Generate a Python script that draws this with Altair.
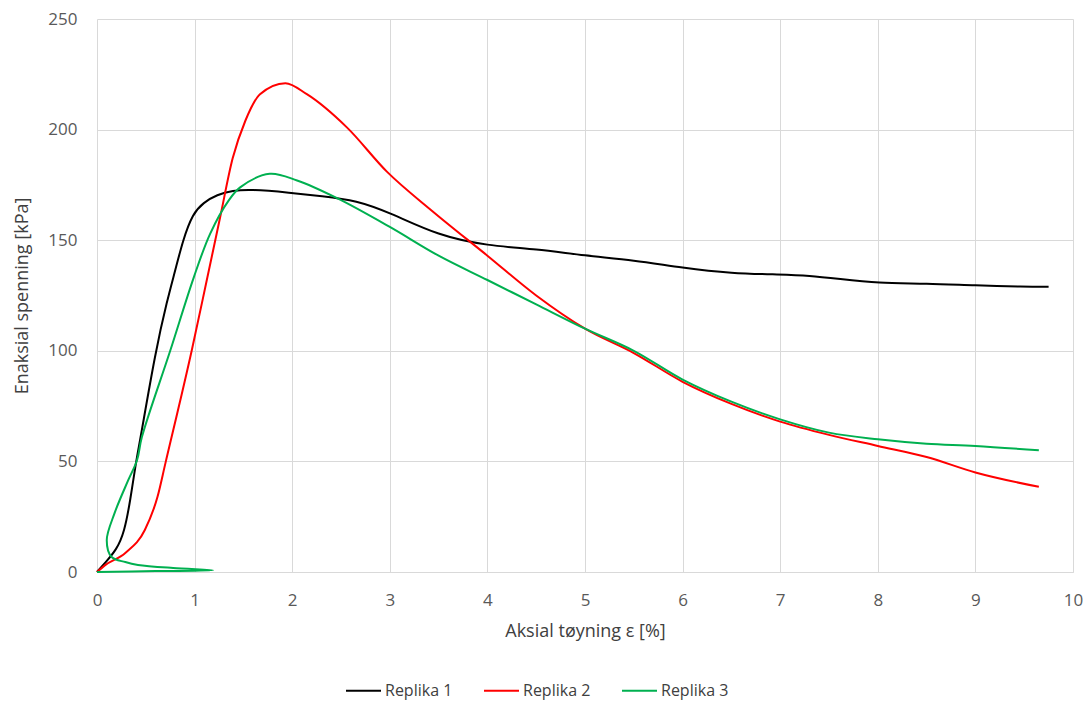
import altair as alt
import pandas as pd

r1_x = [0, 0.08, 0.2, 0.28, 0.34, 0.40, 0.44, 0.6, 0.72, 0.80, 0.88, 0.98, 1.09, 1.23, 1.39, 1.57, 1.98, 2.3, 2.66, 3.0, 3.5, 4.0, 4.5, 5.0, 5.5, 6.0, 6.5, 7.0, 7.3, 7.6, 8.0, 8.5, 9.0, 9.5, 9.75]
r1_y = [0, 4, 10, 18, 32, 50, 59, 100, 123, 136, 150, 162, 167, 170.6, 172.4, 173, 171.5, 170, 168, 162.5, 152, 147.5, 146, 143, 141, 137.5, 135, 134.5, 134, 132.5, 130.5, 130.5, 129.5, 129, 129]

r2_x = [0, 0.08, 0.29, 0.49, 0.62, 0.70, 0.97, 1.13, 1.26, 1.39, 1.52, 1.67, 1.93, 2.15, 2.56, 2.97, 3.44, 4.0, 4.5, 5.0, 5.5, 6.0, 6.5, 7.0, 7.5, 8.0, 8.5, 9.0, 9.65]
r2_y = [0, 3, 8.6, 19, 34, 49, 100, 133, 160, 187, 204, 216, 221, 216, 201, 181, 163, 143, 125, 110, 99, 86, 76, 68, 62, 57, 52, 45, 38.5]

r3_x = [0, 0.6, 1.19, 0.78, 0.42, 0.29, 0.15, 0.10, 0.18, 0.32, 0.41, 0.46, 0.75, 0.99, 1.16, 1.35, 1.47, 1.77, 2.05, 2.46, 3.0, 3.5, 4.0, 4.5, 5.0, 5.5, 6.0, 6.5, 7.0, 7.5, 8.0, 8.5, 9.0, 9.65]
r3_y = [0, 0.4, 0.8, 1.8, 3.2, 4.5, 6.8, 14.4, 26.6, 41.5, 50.5, 61, 100, 133, 153, 168, 174, 180, 177, 169, 156, 143, 132, 121, 110, 100, 87, 77, 69, 63, 60, 58, 57, 55]

series = ["Replika 1", "Replika 2", "Replika 3"]
colors = ["#000000", "#ff0000", "#00b050"]
x_ticks = [0, 1, 2, 3, 4, 5, 6, 7, 8, 9, 10]
y_ticks = [0, 50, 100, 150, 200, 250]

rows = []
for name, xs, ys in zip(series, [r1_x, r2_x, r3_x], [r1_y, r2_y, r3_y]):
    for i, (x, y) in enumerate(zip(xs, ys)):
        rows.append({"serie": name, "x": x, "y": y, "i": i})
df = pd.DataFrame(rows)

FONT = "Open Sans"

x_enc = alt.X("x:Q", scale=alt.Scale(domain=[0, 10], nice=False),
              axis=alt.Axis(title="Aksial tøyning ε [%]", values=x_ticks, labelFlush=False))
y_enc = alt.Y("y:Q", scale=alt.Scale(domain=[0, 250], nice=False),
              axis=alt.Axis(title="Enaksial spenning [kPa]", values=y_ticks))
c_enc = alt.Color("serie:N", scale=alt.Scale(domain=series, range=colors),
                  legend=alt.Legend(title=None, orient="none", direction="horizontal",
                                    legendX=248, legendY=653, padding=0,
                                    symbolType="stroke", symbolStrokeWidth=2,
                                    symbolSize=1225, labelOffset=3,
                                    labelFontSize=16, labelFont=FONT, labelColor="#404040",
                                    columnPadding=27))

base = alt.Chart(df).encode(x=x_enc, y=y_enc, color=c_enc, order="i:Q", detail="serie:N")

l1 = base.transform_filter(alt.datum.serie == "Replika 1").mark_line(
    interpolate="basis", strokeWidth=2)
l2 = base.transform_filter(alt.datum.serie == "Replika 2").mark_line(
    interpolate="monotone", strokeWidth=2)
l3 = base.transform_filter(alt.datum.serie == "Replika 3").mark_line(
    interpolate="catmull-rom", strokeWidth=2)

chart = alt.layer(l1, l2, l3).properties(
    width=976, height=553,
    autosize=alt.AutoSizeParams(type="none"),
    padding={"left": 89, "top": 11, "right": 10, "bottom": 128},
).configure_axis(
    grid=True, gridColor="#d9d9d9", gridWidth=1,
    domainColor="#d9d9d9", ticks=False,
    labelFont=FONT, labelFontSize=17, labelColor="#595959",
    titleFont=FONT, titleFontSize=18, titleColor="#404040", titleFontWeight="normal",
).configure_axisY(
    domain=False, labelPadding=20, titlePadding=16,
).configure_axisX(
    labelPadding=20, titlePadding=14,
).configure_view(stroke=None)

chart.save("out.html", embed_options={"renderer": "svg", "actions": False})
